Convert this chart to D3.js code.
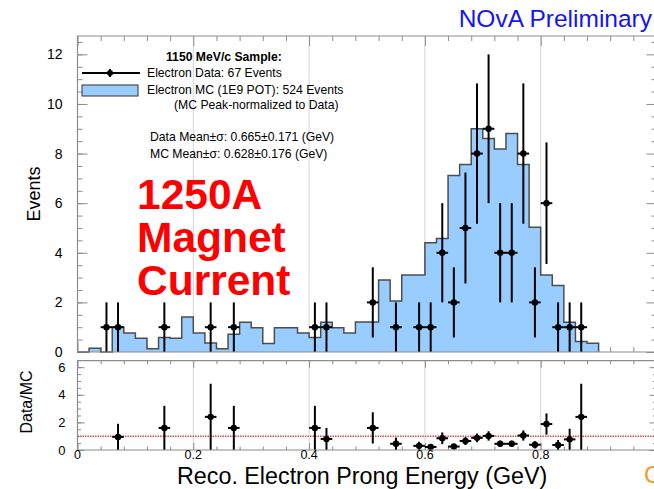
<!DOCTYPE html>
<html>
<head>
<meta charset="utf-8">
<script src="https://cdn.jsdelivr.net/npm/d3@7"></script>
<style>
  html, body { margin: 0; padding: 0; background: #fff; }
  svg { display: block; font-family: "Liberation Sans", Arial, Helvetica, sans-serif; }
</style>
</head>
<body>
<svg id="chart" width="654" height="489"></svg>
<script>
// Simulated electron prong energy, 0.02 GeV bins starting at 0 (peak-normalized MC)
const binWidth = 0.02;
const mcCounts = [
  0, 0.15, 0, 1.0, 0.77, 0.55, 0.13, 0.58, 0.55, 1.41,
  0.77, 0.36, 0.13, 0.72, 1.2, 0.98, 0.34, 0.98, 0.98, 0.77,
  0.58, 1.2, 0.98, 0.77, 1.21, 1.21, 2.9, 2.06, 3.1, 3.1,
  4.4, 4.58, 7.12, 7.56, 9.0, 8.61, 8.18, 8.81, 7.56, 5.03,
  3.1, 2.68, 1.2, 0.42, 0.35
];

// Measured electron data: bin centres (GeV) and event counts
const dataCenters = [0.05, 0.07, 0.15, 0.23, 0.27, 0.41, 0.43, 0.51, 0.55, 0.59, 0.61, 0.63,
                     0.65, 0.67, 0.69, 0.71, 0.73, 0.75, 0.77, 0.79, 0.81, 0.83, 0.85, 0.87];
const dataCounts  = [1, 1, 1, 1, 1, 1, 1, 2, 1, 1, 1, 4,
                     2, 5, 8, 9, 4, 4, 8, 2, 6, 1, 1, 1];

// Data/MC ratio per bin (bins with MC content only)
const ratioCenters = [0.07, 0.15, 0.23, 0.27, 0.41, 0.43, 0.51, 0.55, 0.59, 0.61, 0.63, 0.65,
                      0.67, 0.69, 0.71, 0.73, 0.75, 0.77, 0.79, 0.81, 0.83, 0.85, 0.87];
const ratioValues  = [0.95, 1.6, 2.4, 1.6, 1.6, 0.8, 1.6, 0.45, 0.3, 0.22, 0.85, 0.25,
                      0.65, 0.88, 1.02, 0.45, 0.45, 1.05, 0.38, 1.88, 0.36, 0.77, 2.4];

const topTicks = [0, 2, 4, 6, 8, 10, 12];
const ratioTicks = [0, 2, 4, 6];
const xTicks = [0, 0.2, 0.4, 0.6, 0.8];
const xTickLabels = ["0", "0.2", "0.4", "0.6", "0.8"];

const legendTitle = "1150 MeV/c Sample:";
const legendData = "Electron Data: 67 Events";
const legendMC = "Electron MC (1E9 POT): 524 Events";
const legendNote = "(MC Peak-normalized to Data)";
const statLines = ["Data Mean\u00b1\u03c3: 0.665\u00b10.171 (GeV)", "MC Mean\u00b1\u03c3: 0.628\u00b10.176 (GeV)"];
const bigLabel = ["1250A", "Magnet", "Current"];

const svg = d3.select("#chart");
const FRAME = "#8c8c8c";
const MCFILL = "#99ccff";

const x = d3.scaleLinear().domain([0, 1]).range([77.5, 656.5]);
const yTop = d3.scaleLinear().domain([0, 12.74]).range([352, 36]);
const yBot = d3.scaleLinear().domain([0, 6.47]).range([450, 360.7]);

function panel(y, yMajor, yMinorStep, tickLen, labelSize) {
  const g = svg.append("g");
  const [y0, y1] = y.range();
  const xr = x.range();
  // vertical grid
  g.selectAll("line.grid").data(xTicks.slice(1)).join("line")
    .attr("x1", d => x(d)).attr("x2", d => x(d))
    .attr("y1", y1).attr("y2", y0)
    .attr("stroke", "#d4d4d4").attr("stroke-width", 1);
  const yMinor = d3.range(0, y.domain()[1] + 1e-9, yMinorStep);
  const xMinor = d3.range(0, 1.0001, 0.04);
  // left axis (labels + inward ticks)
  const left = g.append("g").attr("transform", `translate(${xr[0]},0)`)
    .call(d3.axisLeft(y).tickValues(yMajor).tickSizeInner(-tickLen).tickSizeOuter(0).tickPadding(tickLen + 5).tickFormat(d3.format("d")));
  left.select(".domain").remove();
  left.selectAll(".tick line").attr("stroke", FRAME);
  left.selectAll(".tick text").attr("font-size", labelSize).attr("fill", "#000")
    .attr("font-family", "Liberation Sans, Arial, sans-serif");
  const leftMinor = g.append("g").attr("transform", `translate(${xr[0]},0)`)
    .call(d3.axisLeft(y).tickValues(yMinor).tickSizeInner(-tickLen / 2).tickSizeOuter(0).tickFormat(""));
  leftMinor.select(".domain").remove();
  leftMinor.selectAll(".tick line").attr("stroke", FRAME);
  // right axis ticks
  const right = g.append("g").attr("transform", `translate(${xr[1]},0)`)
    .call(d3.axisRight(y).tickValues(yMinor).tickSizeInner(-tickLen / 2).tickSizeOuter(0).tickFormat(""));
  right.select(".domain").remove();
  right.selectAll(".tick line").attr("stroke", FRAME)
    .filter(d => yMajor.includes(d)).attr("x2", -tickLen);
  // top and bottom ticks
  [[y1, d3.axisTop], [y0, d3.axisBottom]].forEach(([yy, ax]) => {
    const a = g.append("g").attr("transform", `translate(0,${yy})`)
      .call(ax(x).tickValues(xMinor).tickSizeInner(-tickLen / 2).tickSizeOuter(0).tickFormat(""));
    a.select(".domain").remove();
    a.selectAll(".tick line").attr("stroke", FRAME)
      .filter(d => xTicks.some(t => Math.abs(t - d) < 1e-6))
      .attr("y2", yy === y1 ? tickLen : -tickLen);
  });
  return g;
}

// ---------- upper panel ----------
const upper = panel(yTop, topTicks, 0.5, 10, 14);

// MC histogram
const stepPts = mcCounts.map((v, i) => [i * binWidth, v]);
stepPts.push([mcCounts.length * binWidth, mcCounts[mcCounts.length - 1]]);
upper.append("path")
  .attr("d", d3.area().curve(d3.curveStepAfter).x(d => x(d[0])).y0(yTop(0)).y1(d => yTop(d[1]))(stepPts))
  .attr("fill", MCFILL);
upper.append("path")
  .attr("d", d3.line().curve(d3.curveStepAfter).x(d => x(d[0])).y(d => yTop(d[1]))(stepPts.concat([[mcCounts.length * binWidth, 0]])))
  .attr("fill", "none").attr("stroke", "#4d4d4d").attr("stroke-width", 1.5);

// data points with Poisson error bars
const dataPts = dataCenters.map((c, i) => ({ c, n: dataCounts[i], e: Math.sqrt(dataCounts[i]) }));
const dg = upper.append("g");
dg.selectAll("line.ey").data(dataPts).join("line")
  .attr("x1", d => x(d.c)).attr("x2", d => x(d.c))
  .attr("y1", d => yTop(Math.max(0, d.n - d.e))).attr("y2", d => yTop(d.n + d.e))
  .attr("stroke", "#000").attr("stroke-width", 2);
dg.selectAll("line.ex").data(dataPts).join("line")
  .attr("x1", d => x(d.c - binWidth / 2)).attr("x2", d => x(d.c + binWidth / 2))
  .attr("y1", d => yTop(d.n)).attr("y2", d => yTop(d.n))
  .attr("stroke", "#000").attr("stroke-width", 2);
dg.selectAll("circle").data(dataPts).join("circle")
  .attr("cx", d => x(d.c)).attr("cy", d => yTop(d.n)).attr("r", 3.2).attr("fill", "#000");

// frame
upper.append("path")
  .attr("d", `M${x(1)},${yTop.range()[1]}H${x(0)}V${yTop.range()[0]}H${x(1)}`)
  .attr("fill", "none").attr("stroke", FRAME).attr("stroke-width", 1.2);

// legend
const lg = svg.append("g").attr("font-size", 12.2).attr("fill", "#000");
lg.append("text").attr("x", 166).attr("y", 61).attr("font-weight", "bold").text(legendTitle);
lg.append("line").attr("x1", 82).attr("x2", 140).attr("y1", 73).attr("y2", 73).attr("stroke", "#000").attr("stroke-width", 2);
lg.append("line").attr("x1", 110).attr("x2", 110).attr("y1", 69).attr("y2", 77).attr("stroke", "#000").attr("stroke-width", 2);
lg.append("circle").attr("cx", 110).attr("cy", 73).attr("r", 3).attr("fill", "#000");
lg.append("text").attr("x", 147).attr("y", 77).text(legendData);
lg.append("rect").attr("x", 82).attr("y", 85).attr("width", 56).attr("height", 11)
  .attr("fill", MCFILL).attr("stroke", "#333").attr("stroke-width", 1);
lg.append("text").attr("x", 147).attr("y", 94).text(legendMC);
lg.append("text").attr("x", 174).attr("y", 109).text(legendNote);
lg.selectAll("text.stat").data(statLines).join("text")
  .attr("x", 150).attr("y", (d, i) => 141 + i * 17).text(d => d);

// large annotation
svg.append("g").selectAll("text").data(bigLabel).join("text")
  .attr("x", 137).attr("y", (d, i) => 209 + i * 43)
  .attr("font-size", 42.5).attr("font-weight", "bold").attr("fill", "#ff0000")
  .text(d => d);

// header
svg.append("text").attr("x", 652).attr("y", 27).attr("text-anchor", "end")
  .attr("font-size", 24.5).attr("fill", "#1414f5").text("NOvA Preliminary");

// y title
svg.append("text").attr("transform", "translate(40,194) rotate(-90)")
  .attr("text-anchor", "middle").attr("font-size", 18).text("Events");

// ---------- ratio panel ----------
const lower = panel(yBot, ratioTicks, 0.5, 7, 13);

lower.append("line")
  .attr("x1", x(0)).attr("x2", x(1)).attr("y1", yBot(1)).attr("y2", yBot(1))
  .attr("stroke", "#e8474a").attr("stroke-width", 1.4).attr("stroke-dasharray", "1.5,1");

const rPts = ratioCenters.map((c, i) => {
  const n = dataCounts[dataCenters.indexOf(c)];
  return { c, r: ratioValues[i], e: ratioValues[i] / Math.sqrt(n) };
});
const rg = lower.append("g");
rg.selectAll("line.ey").data(rPts).join("line")
  .attr("x1", d => x(d.c)).attr("x2", d => x(d.c))
  .attr("y1", d => yBot(Math.max(0, d.r - d.e))).attr("y2", d => yBot(d.r + d.e))
  .attr("stroke", "#000").attr("stroke-width", 2);
rg.selectAll("line.ex").data(rPts).join("line")
  .attr("x1", d => x(d.c - binWidth / 2)).attr("x2", d => x(d.c + binWidth / 2))
  .attr("y1", d => yBot(d.r)).attr("y2", d => yBot(d.r))
  .attr("stroke", "#000").attr("stroke-width", 2);
rg.selectAll("circle").data(rPts).join("circle")
  .attr("cx", d => x(d.c)).attr("cy", d => yBot(d.r)).attr("r", 3.2).attr("fill", "#000");

lower.append("path")
  .attr("d", `M${x(1)},${yBot.range()[1]}H${x(0)}V${yBot.range()[0]}H${x(1)}`)
  .attr("fill", "none").attr("stroke", FRAME).attr("stroke-width", 1.2);

// x tick labels
svg.append("g").selectAll("text").data(xTicks).join("text")
  .attr("x", d => x(d)).attr("y", 459).attr("text-anchor", "middle")
  .attr("font-size", 12.5).text((d, i) => xTickLabels[i]);

svg.append("text").attr("transform", "translate(32,402) rotate(-90)")
  .attr("text-anchor", "middle").attr("font-size", 16).text("Data/MC");

svg.append("text").attr("x", 177).attr("y", 484).attr("font-size", 23.3)
  .text("Reco. Electron Prong Energy (GeV)");

// partially visible logo letter at the lower right
svg.append("text").attr("x", 644).attr("y", 483).attr("font-size", 24)
  .attr("fill", "#f39a2c").text("C");
</script>
</body>
</html>
